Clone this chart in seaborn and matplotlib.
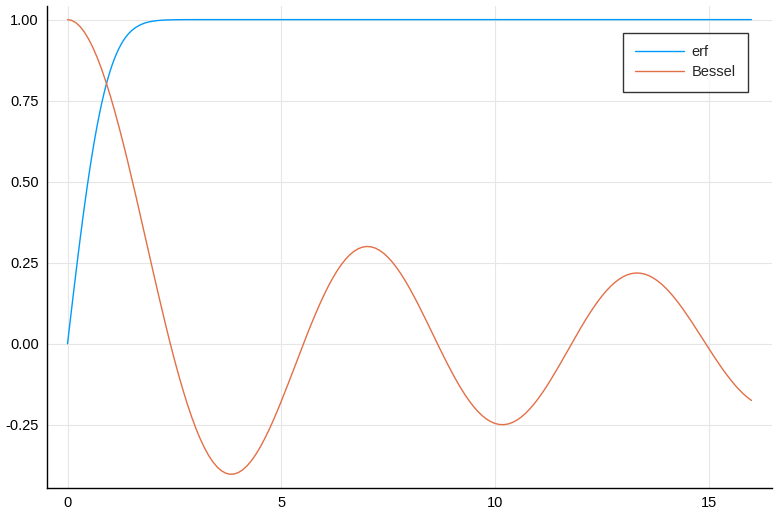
import matplotlib
matplotlib.use("Agg")
import matplotlib.pyplot as plt
import seaborn as sns
import pandas as pd
from matplotlib.ticker import FixedLocator, FuncFormatter

# ---- data ----
erf_x = [0.00, 0.05, 0.10, 0.15, 0.20, 0.25, 0.30, 0.35, 0.40, 0.45, 0.50, 0.55,
         0.60, 0.65, 0.70, 0.75, 0.80, 0.85, 0.90, 0.95, 1.00, 1.05, 1.10, 1.15,
         1.20, 1.25, 1.30, 1.35, 1.40, 1.45, 1.50, 1.60, 1.70, 1.80, 1.90, 2.00,
         2.10, 2.20, 2.30, 2.40, 2.50, 2.70, 3.00, 16.0]
erf_y = [0.0, 0.0564, 0.1125, 0.1680, 0.2227, 0.2763, 0.3286, 0.3794, 0.4284,
         0.4755, 0.5205, 0.5633, 0.6039, 0.6420, 0.6778, 0.7112, 0.7421, 0.7707,
         0.7969, 0.8209, 0.8427, 0.8624, 0.8802, 0.8961, 0.9103, 0.9229, 0.9340,
         0.9438, 0.9523, 0.9597, 0.9661, 0.9763, 0.9838, 0.9891, 0.9928, 0.9953,
         0.9970, 0.9981, 0.9989, 0.9993, 0.9996, 0.9999, 1.0, 1.0]

bessel_x = [i / 10 for i in range(161)]
bessel_y = [
    1.0000, 0.9975, 0.9900, 0.9776, 0.9604, 0.9385, 0.9120, 0.8812, 0.8463, 0.8075,
    0.7652, 0.7196, 0.6711, 0.6201, 0.5669, 0.5118, 0.4554, 0.3980, 0.3400, 0.2818,
    0.2239, 0.1666, 0.1104, 0.0555, 0.0025, -0.0484, -0.0968, -0.1424, -0.1850, -0.2243,
    -0.2601, -0.2921, -0.3202, -0.3443, -0.3643, -0.3801, -0.3918, -0.3992, -0.4026, -0.4018,
    -0.3971, -0.3887, -0.3766, -0.3610, -0.3423, -0.3205, -0.2961, -0.2693, -0.2404, -0.2097,
    -0.1776, -0.1443, -0.1103, -0.0758, -0.0412, -0.0068, 0.0270, 0.0599, 0.0917, 0.1220,
    0.1506, 0.1773, 0.2017, 0.2238, 0.2433, 0.2601, 0.2740, 0.2851, 0.2931, 0.2981,
    0.3001, 0.2991, 0.2951, 0.2882, 0.2786, 0.2663, 0.2516, 0.2346, 0.2154, 0.1944,
    0.1717, 0.1475, 0.1222, 0.0960, 0.0692, 0.0419, 0.0146, -0.0125, -0.0392, -0.0653,
    -0.0903, -0.1142, -0.1367, -0.1577, -0.1768, -0.1939, -0.2090, -0.2218, -0.2323, -0.2403,
    -0.2459, -0.2490, -0.2496, -0.2477, -0.2434, -0.2366, -0.2276, -0.2164, -0.2032, -0.1881,
    -0.1712, -0.1528, -0.1330, -0.1121, -0.0902, -0.0677, -0.0446, -0.0213, 0.0020, 0.0250,
    0.0477, 0.0697, 0.0908, 0.1108, 0.1296, 0.1469, 0.1626, 0.1766, 0.1887, 0.1988,
    0.2069, 0.2129, 0.2167, 0.2183, 0.2177, 0.2150, 0.2101, 0.2032, 0.1943, 0.1836,
    0.1711, 0.1570, 0.1414, 0.1245, 0.1065, 0.0875, 0.0679, 0.0476, 0.0271, 0.0064,
    -0.0142, -0.0346, -0.0544, -0.0736, -0.0919, -0.1092, -0.1253, -0.1401, -0.1533, -0.1650,
    -0.1749]

series_names = ["erf", "Bessel"]
series_colors = ["#009AFA", "#E26F46"]
x_ticks = [0, 5, 10, 15]
y_ticks = [-0.25, 0.0, 0.25, 0.5, 0.75, 1.0]

df = pd.concat([
    pd.DataFrame({"x": erf_x, "y": erf_y, "series": series_names[0]}),
    pd.DataFrame({"x": bessel_x, "y": bessel_y, "series": series_names[1]}),
], ignore_index=True)

sns.set_style("white")
plt.rcParams["font.family"] = ["Liberation Sans", "DejaVu Sans"]

fig = plt.figure(figsize=(7.78, 5.15), dpi=100)
ax = fig.add_axes([47 / 778, 27 / 515, 725 / 778, 482 / 515])

sns.lineplot(data=df, x="x", y="y", hue="series", hue_order=series_names,
             palette=series_colors, estimator=None, sort=False, linewidth=1.0,
             ax=ax)

ax.set_xlim(-0.48, 16.48)
ax.set_ylim(-0.445, 1.042)
ax.xaxis.set_major_locator(FixedLocator(x_ticks))
ax.yaxis.set_major_locator(FixedLocator(y_ticks))
ax.xaxis.set_major_formatter(FuncFormatter(lambda v, p: f"{v:.0f}"))
ax.yaxis.set_major_formatter(FuncFormatter(lambda v, p: f"{v:.2f}"))
ax.set_xlabel("")
ax.set_ylabel("")

ax.grid(True, color="#e6e6e6", linewidth=0.8)
ax.set_axisbelow(True)
for s in ["top", "right"]:
    ax.spines[s].set_visible(False)
for s in ["left", "bottom"]:
    ax.spines[s].set_color("black")
    ax.spines[s].set_linewidth(1.0)

ax.tick_params(axis="y", direction="in", length=6, width=0.8, pad=6,
               labelsize=10.5, colors="black")
ax.tick_params(axis="x", direction="in", length=4.5, width=0.8, pad=6,
               labelsize=10.5, colors="black")

leg = ax.legend(loc="upper right", bbox_to_anchor=(0.967, 0.944),
                borderaxespad=0, frameon=True, fancybox=False,
                edgecolor="black", fontsize=10.5, handlelength=3.3,
                handletextpad=0.55, labelspacing=0.4, borderpad=0.85)
leg.get_frame().set_linewidth(1.0)

fig.savefig("out.png", dpi=100)
